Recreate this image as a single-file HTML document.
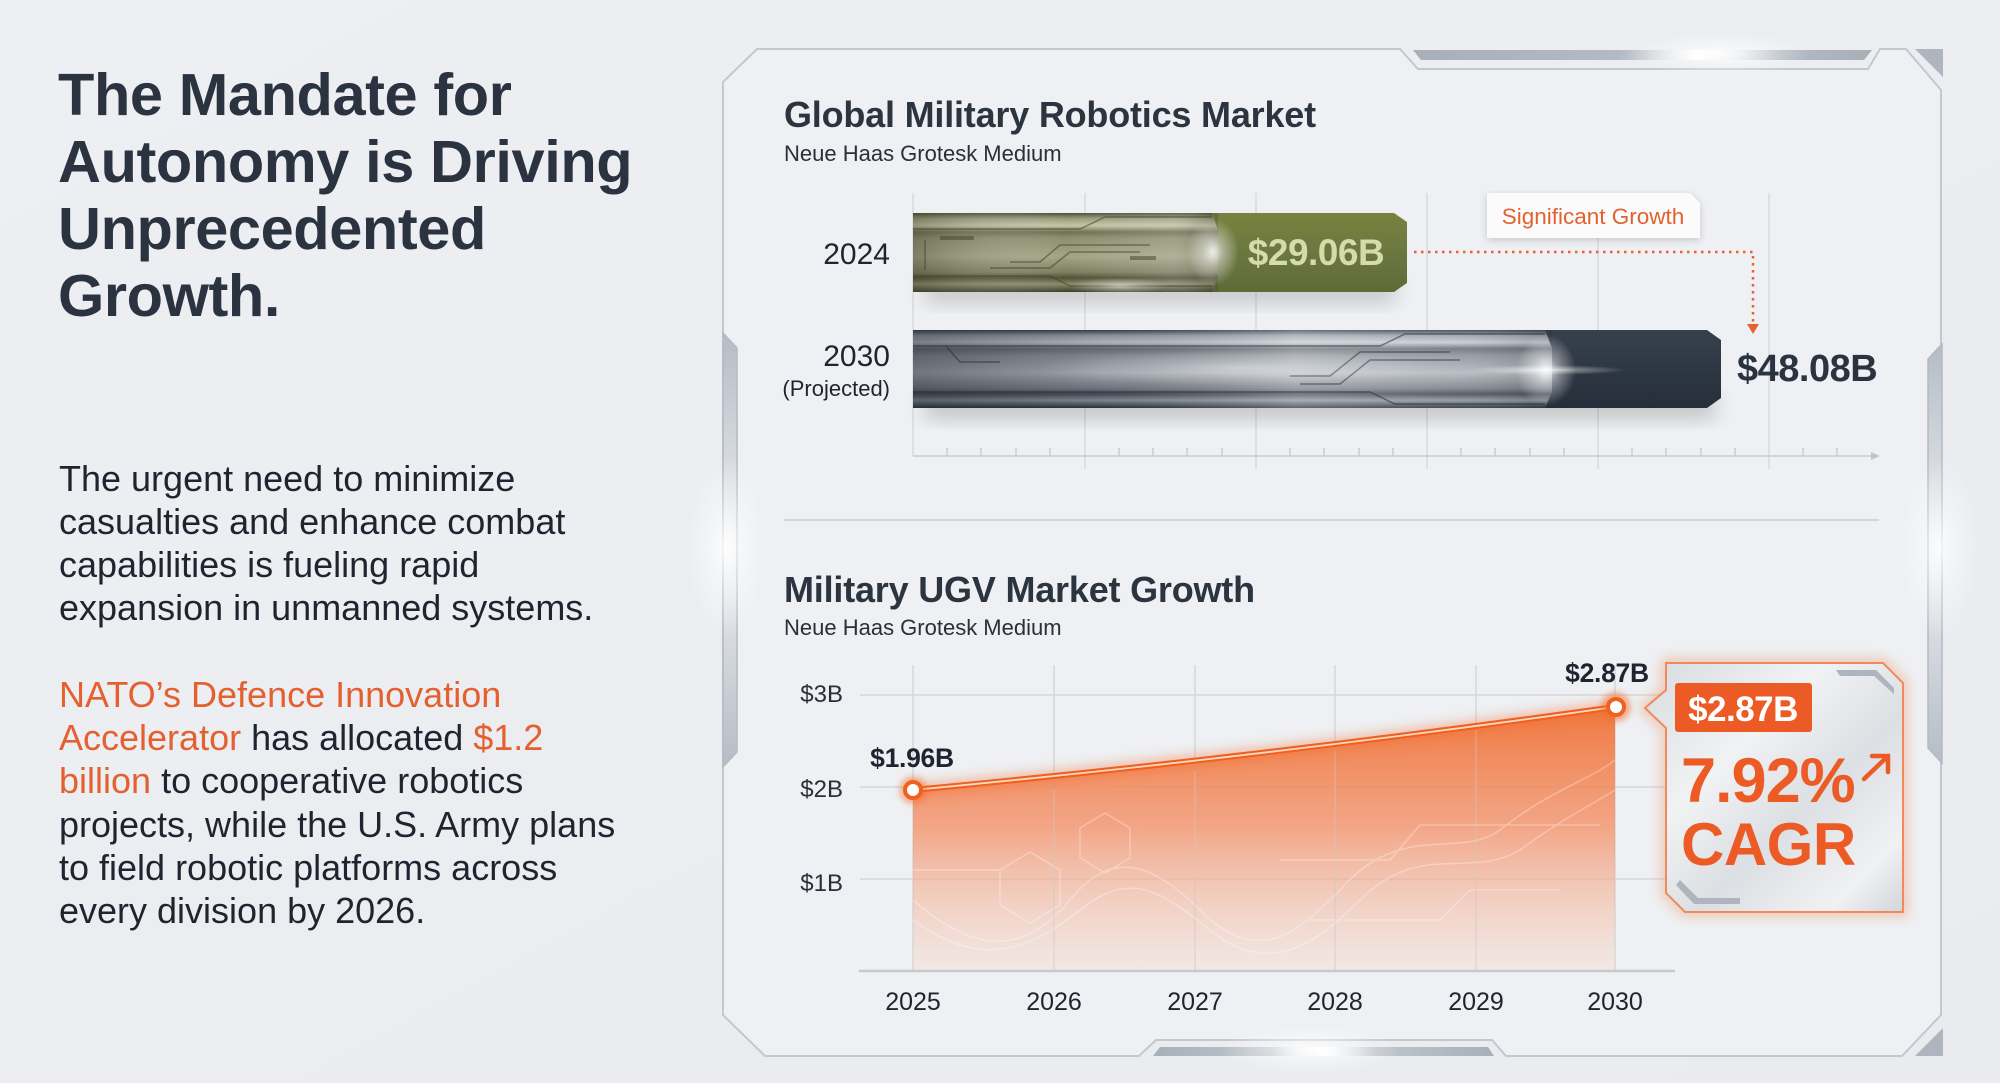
<!DOCTYPE html>
<html><head><meta charset="utf-8">
<style>
html,body{margin:0;padding:0;background:#eceef1;width:2000px;height:1083px;overflow:hidden;}
svg{display:block;}
text{font-family:"Liberation Sans",sans-serif;}
</style></head><body>
<svg width="2000" height="1083" viewBox="0 0 2000 1083" xmlns="http://www.w3.org/2000/svg">
<defs>
  <linearGradient id="bg" x1="0" y1="0" x2="1" y2="1">
    <stop offset="0" stop-color="#edeff2"/><stop offset="1" stop-color="#e9ebef"/>
  </linearGradient>
  <radialGradient id="glow">
    <stop offset="0" stop-color="#ffffff" stop-opacity="1"/>
    <stop offset="0.4" stop-color="#ffffff" stop-opacity="0.5"/>
    <stop offset="1" stop-color="#ffffff" stop-opacity="0"/>
  </radialGradient>
  <linearGradient id="tabbar" x1="0" y1="0" x2="1" y2="0">
    <stop offset="0" stop-color="#a7afb9"/><stop offset="0.45" stop-color="#b3bac3"/>
    <stop offset="0.62" stop-color="#ffffff"/><stop offset="0.8" stop-color="#b3bac3"/>
    <stop offset="1" stop-color="#a7afb9"/>
  </linearGradient>
  <linearGradient id="botbar" x1="0" y1="0" x2="1" y2="0">
    <stop offset="0" stop-color="#a7afb9"/><stop offset="0.35" stop-color="#c0c6cd"/>
    <stop offset="0.5" stop-color="#ffffff"/><stop offset="0.65" stop-color="#c0c6cd"/>
    <stop offset="1" stop-color="#a7afb9"/>
  </linearGradient>
  <linearGradient id="bracket" x1="0" y1="0" x2="0" y2="1">
    <stop offset="0" stop-color="#b5bcc5"/><stop offset="0.5" stop-color="#eef0f3"/>
    <stop offset="1" stop-color="#b5bcc5"/>
  </linearGradient>
  <linearGradient id="olive" x1="0" y1="0" x2="0" y2="1">
    <stop offset="0" stop-color="#4a4e33"/>
    <stop offset="0.07" stop-color="#9a9b7b"/>
    <stop offset="0.16" stop-color="#c4c4a8"/>
    <stop offset="0.24" stop-color="#6d7052"/>
    <stop offset="0.32" stop-color="#8d8f70"/>
    <stop offset="0.55" stop-color="#a3a487"/>
    <stop offset="0.75" stop-color="#7c7e60"/>
    <stop offset="0.82" stop-color="#4f5236"/>
    <stop offset="0.9" stop-color="#8a8b6c"/>
    <stop offset="1" stop-color="#3b3d27"/>
  </linearGradient>
  <linearGradient id="oliveH" x1="0" y1="0" x2="1" y2="0">
    <stop offset="0" stop-color="#3b3d27" stop-opacity="0.35"/>
    <stop offset="0.5" stop-color="#ffffff" stop-opacity="0"/>
    <stop offset="0.85" stop-color="#ffffff" stop-opacity="0.15"/>
    <stop offset="1" stop-color="#3b3d27" stop-opacity="0.3"/>
  </linearGradient>
  <linearGradient id="oliveFlat" x1="0" y1="0" x2="0" y2="1">
    <stop offset="0" stop-color="#77823f"/><stop offset="0.5" stop-color="#6c7740"/><stop offset="1" stop-color="#5f6a37"/>
  </linearGradient>
  <linearGradient id="steel" x1="0" y1="0" x2="0" y2="1">
    <stop offset="0" stop-color="#3a424d"/>
    <stop offset="0.07" stop-color="#9aa1aa"/>
    <stop offset="0.16" stop-color="#c8ccd1"/>
    <stop offset="0.24" stop-color="#6b737d"/>
    <stop offset="0.33" stop-color="#8f969f"/>
    <stop offset="0.55" stop-color="#b4b9bf"/>
    <stop offset="0.75" stop-color="#7a818a"/>
    <stop offset="0.82" stop-color="#474e58"/>
    <stop offset="0.9" stop-color="#8d949c"/>
    <stop offset="1" stop-color="#2c323a"/>
  </linearGradient>
  <linearGradient id="steelH" x1="0" y1="0" x2="1" y2="0">
    <stop offset="0" stop-color="#1f252d" stop-opacity="0.45"/>
    <stop offset="0.3" stop-color="#1f252d" stop-opacity="0.15"/>
    <stop offset="0.6" stop-color="#ffffff" stop-opacity="0.25"/>
    <stop offset="0.85" stop-color="#ffffff" stop-opacity="0.1"/>
    <stop offset="1" stop-color="#1f252d" stop-opacity="0.2"/>
  </linearGradient>
  <linearGradient id="steelFlat" x1="0" y1="0" x2="0" y2="1">
    <stop offset="0" stop-color="#36414e"/><stop offset="0.5" stop-color="#2e3844"/><stop offset="1" stop-color="#252e39"/>
  </linearGradient>
  <linearGradient id="area" x1="0" y1="0" x2="0" y2="1">
    <stop offset="0" stop-color="#f07236" stop-opacity="0.95"/>
    <stop offset="0.45" stop-color="#f4926a" stop-opacity="0.8"/>
    <stop offset="1" stop-color="#f6d7c8" stop-opacity="0.35"/>
  </linearGradient>
  <linearGradient id="cagrFill" x1="0" y1="0" x2="1" y2="1">
    <stop offset="0" stop-color="#d8dbe0"/>
    <stop offset="0.35" stop-color="#f1f2f4"/>
    <stop offset="0.6" stop-color="#dcdfe3"/>
    <stop offset="0.85" stop-color="#f0f1f3"/>
    <stop offset="1" stop-color="#d2d5da"/>
  </linearGradient>
  <filter id="blur6" x="-20%" y="-50%" width="140%" height="200%"><feGaussianBlur stdDeviation="6"/></filter>
  <filter id="blur10" x="-20%" y="-50%" width="140%" height="200%"><feGaussianBlur stdDeviation="10"/></filter>
  <filter id="blur3" x="-20%" y="-50%" width="140%" height="200%"><feGaussianBlur stdDeviation="3"/></filter>
  <filter id="shadowSoft" x="-10%" y="-10%" width="120%" height="130%">
    <feGaussianBlur in="SourceAlpha" stdDeviation="4"/>
    <feOffset dy="2"/>
    <feComponentTransfer><feFuncA type="linear" slope="0.18"/></feComponentTransfer>
    <feMerge><feMergeNode/><feMergeNode in="SourceGraphic"/></feMerge>
  </filter>
</defs>

<!-- background -->
<rect x="0" y="0" width="2000" height="1083" fill="url(#bg)"/>

<!-- LEFT TEXT -->
<g font-weight="700" font-size="59.5" fill="#2b3340" letter-spacing="-0.4">
  <text x="58" y="115">The Mandate for</text>
  <text x="58" y="182">Autonomy is Driving</text>
  <text x="58" y="249">Unprecedented</text>
  <text x="58" y="316">Growth.</text>
</g>
<g font-size="36" fill="#1f2530">
  <text x="59" y="491">The urgent need to minimize</text>
  <text x="59" y="534">casualties and enhance combat</text>
  <text x="59" y="577">capabilities is fueling rapid</text>
  <text x="59" y="620">expansion in unmanned systems.</text>
  <text x="59" y="707" fill="#e4612f">NATO’s Defence Innovation</text>
  <text x="59" y="750"><tspan fill="#e4612f">Accelerator</tspan> has allocated <tspan fill="#e4612f">$1.2</tspan></text>
  <text x="59" y="793"><tspan fill="#e4612f">billion</tspan> to cooperative robotics</text>
  <text x="59" y="837">projects, while the U.S. Army plans</text>
  <text x="59" y="880">to field robotic platforms across</text>
  <text x="59" y="923">every division by 2026.</text>
</g>

<!-- PANEL FRAME -->
<path d="M723,1015 L723,82 L757,49 L1400,49 L1418,69 L1868,69 L1880,49 L1906,49 L1941,90 L1941,1015 L1902,1056 L1506,1056 L1492,1040 L1156,1040 L1139,1056 L765,1056 Z"
      fill="#eef0f3" stroke="#c3c8cf" stroke-width="2"/>
<polygon points="1413,50 1872,50 1864,60 1421,60" fill="url(#tabbar)"/>
<polygon points="1153,1056 1494,1056 1488,1047 1160,1047" fill="url(#botbar)"/>
<polygon points="1915,49 1943,49 1943,77" fill="#aeb5be"/>
<polygon points="1915,1056 1943,1056 1943,1028" fill="#aeb5be"/>
<polygon points="723,333 737,348 737,752 723,767" fill="url(#bracket)" stroke="#b3bac3" stroke-width="1.5"/>
<polygon points="1942,344 1928,359 1928,748 1942,763" fill="url(#bracket)" stroke="#b3bac3" stroke-width="1.5"/>
<!-- glows -->
<ellipse cx="726" cy="548" rx="40" ry="90" fill="url(#glow)" opacity="0.9"/>
<ellipse cx="1940" cy="548" rx="40" ry="90" fill="url(#glow)" opacity="0.8"/>
<ellipse cx="1720" cy="54" rx="90" ry="22" fill="url(#glow)" opacity="0.9"/>
<ellipse cx="1310" cy="1050" rx="90" ry="24" fill="url(#glow)" opacity="0.9"/>

<!-- CHART 1 TITLE -->
<text x="784" y="127" font-size="36" font-weight="700" fill="#2c3440" letter-spacing="-0.2">Global Military Robotics Market</text>
<text x="784" y="161" font-size="22" fill="#2a2f38">Neue Haas Grotesk Medium</text>

<!-- bar chart grid -->
<g stroke="#d6dadf" stroke-width="1.5">
  <line x1="913" y1="193" x2="913" y2="456"/>
  <line x1="1085" y1="193" x2="1085" y2="469"/>
  <line x1="1256" y1="193" x2="1256" y2="469"/>
  <line x1="1427" y1="193" x2="1427" y2="469"/>
  <line x1="1598" y1="193" x2="1598" y2="469"/>
  <line x1="1769" y1="193" x2="1769" y2="469"/>
</g>
<g stroke="#c8ccd2" stroke-width="1.5">
  <line x1="913" y1="456" x2="1874" y2="456"/>
  <line x1="947" y1="448" x2="947" y2="456"/><line x1="981" y1="448" x2="981" y2="456"/>
  <line x1="1016" y1="448" x2="1016" y2="456"/><line x1="1050" y1="448" x2="1050" y2="456"/>
  <line x1="1119" y1="448" x2="1119" y2="456"/><line x1="1153" y1="448" x2="1153" y2="456"/>
  <line x1="1187" y1="448" x2="1187" y2="456"/><line x1="1222" y1="448" x2="1222" y2="456"/>
  <line x1="1290" y1="448" x2="1290" y2="456"/><line x1="1324" y1="448" x2="1324" y2="456"/>
  <line x1="1359" y1="448" x2="1359" y2="456"/><line x1="1393" y1="448" x2="1393" y2="456"/>
  <line x1="1461" y1="448" x2="1461" y2="456"/><line x1="1495" y1="448" x2="1495" y2="456"/>
  <line x1="1530" y1="448" x2="1530" y2="456"/><line x1="1564" y1="448" x2="1564" y2="456"/>
  <line x1="1632" y1="448" x2="1632" y2="456"/><line x1="1666" y1="448" x2="1666" y2="456"/>
  <line x1="1701" y1="448" x2="1701" y2="456"/><line x1="1735" y1="448" x2="1735" y2="456"/>
  <line x1="1803" y1="448" x2="1803" y2="456"/><line x1="1837" y1="448" x2="1837" y2="456"/>
</g>
<polygon points="1880,456 1871,452 1871,460" fill="#c0c5cc"/>

<!-- bar shadows -->
<rect x="925" y="280" width="470" height="22" fill="#000" opacity="0.18" filter="url(#blur10)"/>
<rect x="925" y="396" width="790" height="22" fill="#000" opacity="0.2" filter="url(#blur10)"/>

<!-- bar 2024 -->
<path d="M1205,213 L1394,213 L1407,222 L1407,283 L1394,292 L1205,292 Z" fill="url(#oliveFlat)"/>
<path d="M913,213 L1212,213 L1218,230 L1218,277 L1212,292 L913,292 Z" fill="url(#olive)"/>
<rect x="913" y="213" width="305" height="79" fill="url(#oliveH)"/>
<g stroke="#3e4229" stroke-width="1.5" fill="none" opacity="0.55">
  <path d="M913,229 L1080,229 L1105,217 L1212,217"/>
  <path d="M913,276 L1050,276 L1070,286 L1212,286"/>
  <path d="M925,240 L925,270"/>
  <path d="M1010,262 L1040,262 L1060,245 L1150,245"/>
  <path d="M990,268 L1050,268 L1070,252 L1140,252"/>
</g>
<g fill="#3e4229" opacity="0.5" font-size="8"><rect x="1130" y="256" width="26" height="4"/><rect x="940" y="236" width="34" height="4"/></g>
<ellipse cx="1213" cy="252" rx="26" ry="34" fill="url(#glow)" opacity="0.85"/>
<ellipse cx="1120" cy="286" rx="50" ry="8" fill="url(#glow)" opacity="0.55"/>
<text x="1316" y="265" font-size="37" font-weight="700" fill="#d3dcaa" text-anchor="middle" letter-spacing="-0.5">$29.06B</text>

<!-- bar 2030 -->
<path d="M1540,330 L1707,330 L1721,340 L1721,398 L1707,408 L1540,408 Z" fill="url(#steelFlat)"/>
<path d="M913,330 L1545,330 L1552,348 L1552,392 L1545,408 L913,408 Z" fill="url(#steel)"/>
<rect x="913" y="330" width="639" height="78" fill="url(#steelH)"/>
<g stroke="#20262e" stroke-width="1.5" fill="none" opacity="0.5">
  <path d="M913,346 L1380,346 L1405,334 L1545,334"/>
  <path d="M913,392 L1370,392 L1395,404 L1545,404"/>
  <path d="M945,345 L960,362 L1000,362"/>
  <path d="M1300,384 L1340,384 L1370,360 L1460,360"/>
  <path d="M1290,376 L1330,376 L1360,352 L1450,352"/>
</g>
<ellipse cx="1240" cy="368" rx="200" ry="18" fill="url(#glow)" opacity="0.35"/>
<ellipse cx="1546" cy="370" rx="30" ry="36" fill="url(#glow)" opacity="0.9"/>
<ellipse cx="1546" cy="370" rx="80" ry="5" fill="url(#glow)" opacity="0.7"/>
<text x="1737" y="381" font-size="38" font-weight="700" fill="#2b3340" letter-spacing="-0.5">$48.08B</text>

<!-- bar labels -->
<text x="890" y="264" font-size="30" fill="#1f2530" text-anchor="end">2024</text>
<text x="890" y="366" font-size="30" fill="#1f2530" text-anchor="end">2030</text>
<text x="890" y="396" font-size="22" fill="#1f2530" text-anchor="end">(Projected)</text>

<!-- significant growth callout -->
<path d="M1487,193 L1690,193 L1700,203 L1700,238 L1487,238 Z" fill="#fbfbfb" filter="url(#shadowSoft)"/>
<text x="1593" y="224" font-size="22.5" fill="#e2622f" text-anchor="middle">Significant Growth</text>
<path d="M1414,252 L1753,252 L1753,326" fill="none" stroke="#e8622f" stroke-width="2.5" stroke-dasharray="2.5 4.5"/>
<polygon points="1747,324 1759,324 1753,334" fill="#e8622f"/>

<!-- separator -->
<line x1="784" y1="520" x2="1879" y2="520" stroke="#d3d7dc" stroke-width="2"/>

<!-- CHART 2 TITLE -->
<text x="784" y="602" font-size="36" font-weight="700" fill="#2c3440" letter-spacing="-0.2">Military UGV Market Growth</text>
<text x="784" y="635" font-size="22" fill="#2a2f38">Neue Haas Grotesk Medium</text>

<!-- line chart grid -->
<g stroke="#d4d8dd" stroke-width="1.5">
  <line x1="860" y1="695" x2="1665" y2="695"/>
  <line x1="860" y1="787" x2="1665" y2="787"/>
  <line x1="860" y1="879" x2="1665" y2="879"/>
  <line x1="913" y1="665" x2="913" y2="971"/>
  <line x1="1054" y1="665" x2="1054" y2="971"/>
  <line x1="1195" y1="665" x2="1195" y2="971"/>
  <line x1="1335" y1="665" x2="1335" y2="971"/>
  <line x1="1476" y1="665" x2="1476" y2="971"/>
  <line x1="1615" y1="665" x2="1615" y2="971"/>
</g>

<!-- area -->
<path d="M913,790 C1147,768 1381,740 1615,707 L1615,971 L913,971 Z" fill="url(#area)"/>
<!-- faint circuit decoration -->
<g fill="none" stroke="#ffffff" stroke-width="1.5" opacity="0.3">
  <path d="M913,900 C970,950 1020,960 1070,900 C1110,850 1150,860 1200,910 C1260,970 1300,930 1340,890 C1400,820 1460,860 1500,830 C1550,790 1590,780 1615,760"/>
  <path d="M913,920 C980,970 1030,950 1080,910 C1130,870 1160,890 1210,930 C1270,980 1320,940 1360,900 C1420,840 1470,880 1520,850 C1560,820 1600,800 1615,790"/>
  <polygon points="1000,870 1030,852 1060,870 1060,905 1030,923 1000,905"/>
  <polygon points="1080,828 1105,813 1130,828 1130,858 1105,873 1080,858"/>
  <path d="M1280,860 L1390,860 L1420,825 L1600,825"/>
  <path d="M1310,920 L1440,920 L1470,890 L1560,890"/>
  <path d="M913,870 L1000,870"/>
</g>
<g stroke="#d4d8dd" stroke-width="1" opacity="0.5">
  <line x1="1054" y1="790" x2="1054" y2="971"/><line x1="1195" y1="770" x2="1195" y2="971"/>
  <line x1="1335" y1="750" x2="1335" y2="971"/><line x1="1476" y1="730" x2="1476" y2="971"/>
</g>
<line x1="859" y1="971" x2="1675" y2="971" stroke="#c5cad0" stroke-width="2.5"/>

<!-- line -->
<path d="M913,790 C1147,768 1381,740 1615,707" fill="none" stroke="#f26a2a" stroke-width="10" opacity="0.5" filter="url(#blur6)"/>
<path d="M913,790 C1147,768 1381,740 1615,707" fill="none" stroke="#f0601f" stroke-width="6"/>
<path d="M913,790 C1147,768 1381,740 1615,707" fill="none" stroke="#ffd9c2" stroke-width="1.8"/>
<circle cx="913" cy="790" r="14" fill="#f26a2a" opacity="0.45" filter="url(#blur3)"/>
<circle cx="913" cy="790" r="8" fill="#ffffff" stroke="#f0601f" stroke-width="4"/>
<circle cx="1616" cy="707" r="15" fill="#f26a2a" opacity="0.5" filter="url(#blur3)"/>
<circle cx="1616" cy="707" r="8" fill="#ffffff" stroke="#f0601f" stroke-width="4"/>

<!-- value labels -->
<text x="912" y="767" font-size="26.5" font-weight="700" fill="#1f2530" text-anchor="middle" letter-spacing="-0.3">$1.96B</text>
<text x="1607" y="682" font-size="26.5" font-weight="700" fill="#1f2530" text-anchor="middle" letter-spacing="-0.3">$2.87B</text>

<!-- y labels -->
<g font-size="24" fill="#2a2f38" text-anchor="end">
  <text x="843" y="702">$3B</text>
  <text x="843" y="797">$2B</text>
  <text x="843" y="891">$1B</text>
</g>
<!-- x labels -->
<g font-size="25" fill="#1f2530" text-anchor="middle">
  <text x="913" y="1010">2025</text>
  <text x="1054" y="1010">2026</text>
  <text x="1195" y="1010">2027</text>
  <text x="1335" y="1010">2028</text>
  <text x="1476" y="1010">2029</text>
  <text x="1615" y="1010">2030</text>
</g>

<!-- CAGR box -->
<path d="M1666,663 L1883,663 L1903,683 L1903,912 L1685,912 L1666,893 L1666,728 L1645,708 L1666,690 Z" fill="none" stroke="#f07a40" stroke-width="8" opacity="0.45" filter="url(#blur6)"/>
<path d="M1666,663 L1883,663 L1903,683 L1903,912 L1685,912 L1666,893 L1666,728 L1645,708 L1666,690 Z" fill="url(#cagrFill)" stroke="#f08a5c" stroke-width="2"/>
<polygon points="1836,670 1876,670 1894,688 1894,694 1874,676 1840,676" fill="#aeb5be"/>
<polygon points="1676,885 1694,904 1740,904 1740,898 1698,898 1680,880" fill="#aeb5be"/>
<rect x="1675" y="683" width="137" height="49" rx="3" fill="#ec5b25"/>
<text x="1743" y="721" font-size="35" font-weight="700" fill="#ffffff" text-anchor="middle" letter-spacing="-0.5">$2.87B</text>
<text x="1681" y="802" font-size="63" font-weight="700" fill="#ec5b25" letter-spacing="-1">7.92%</text>
<g stroke="#ec5b25" stroke-width="4.5" fill="none" stroke-linecap="round">
  <line x1="1864" y1="779" x2="1887" y2="757"/>
  <polyline points="1872,756 1888,756 1888,772"/>
</g>
<text x="1681" y="865" font-size="60" font-weight="700" fill="#ec5b25" letter-spacing="-0.5">CAGR</text>
</svg>
</body></html>
